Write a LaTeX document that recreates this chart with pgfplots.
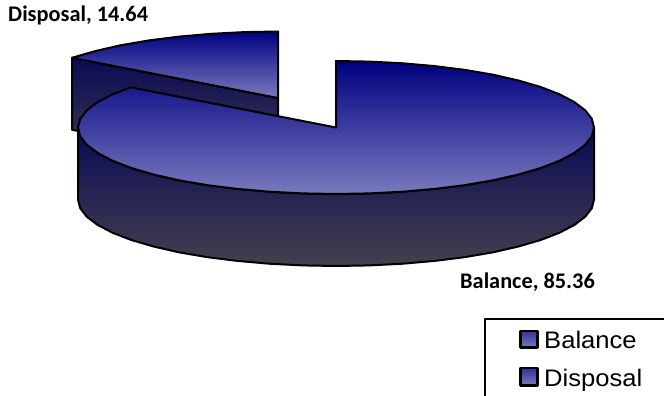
\documentclass[border=0pt]{standalone}
\usepackage{pgfplots}
\pgfplotsset{compat=1.18}
\usepackage{fontspec}
\setmainfont{Liberation Sans}
\newfontfamily\labelfont{Carlito}[BoldFont=Carlito Bold]
\definecolor{topdark}{RGB}{0,0,128}
\definecolor{topmid}{RGB}{84,84,160}
\definecolor{toplight}{RGB}{122,122,190}
\definecolor{walldark}{RGB}{10,10,85}
\definecolor{walllight}{RGB}{68,64,78}
\begin{document}
\begin{tikzpicture}[x=1bp,y=1bp]
\path[use as bounding box] (0,0) rectangle (664bp,396bp);
\begin{axis}[
  at={(0,0)}, anchor=south west,
  scale only axis, width=664bp, height=396bp,
  xmin=0, xmax=664, ymin=0, ymax=396, y dir=reverse,
  hide axis, clip=false,
  every axis plot/.append style={draw=black, line width=2bp, line join=round, mark=none},
]
% Disposal: cut face, then top surface (14.64 of the pie)
\addplot[top color=walldark, bottom color=walllight] coordinates {
  (72,57.8) (278,98) (278,170) (72,129.8)
} -- cycle;
\addplot[top color=topdark, middle color=topmid, bottom color=toplight] coordinates {
  (278,31.5) (244.3,32.1) (211.2,33.8) (179.3,36.6) (149,40.4) (120.9,45.2)
  (95.6,51) (72,57.8) (278,98)
} -- cycle;
% Balance: outer wall, then top surface (85.36 of the pie)
\addplot[top color=walldark, bottom color=walllight] coordinates {
  (594,127.5) (591.8,136.2) (585.2,144.7) (574.4,152.9) (559.4,160.75) (540.7,168)
  (518.4,174.5) (493.1,180.3) (465,185.1) (434.7,188.9) (402.8,191.7) (369.7,193.4)
  (336,194) (302.3,193.4) (269.2,191.7) (237.3,188.9) (207,185.1) (178.9,180.3)
  (153.6,174.5) (131.3,168) (112.6,160.75) (97.6,152.9) (86.8,144.7) (80.2,136.2)
  (78,127.5)
  (78,199.5) (80.2,208.2) (86.8,216.7) (97.6,224.9) (112.6,232.75) (131.3,240)
  (153.6,246.5) (178.9,252.3) (207,257.1) (237.3,260.9) (269.2,263.7) (302.3,265.4)
  (336,266) (369.7,265.4) (402.8,263.7) (434.7,260.9) (465,257.1) (493.1,252.3)
  (518.4,246.5) (540.7,240) (559.4,232.75) (574.4,224.9) (585.2,216.7) (591.8,208.2)
  (594,199.5)
} -- cycle;
\addplot[top color=topdark, middle color=topmid, bottom color=toplight] coordinates {
  (336,61) (369.7,61.6) (402.8,63.3) (434.7,66.1) (465,69.9) (493.1,74.7)
  (518.4,80.5) (540.7,87) (559.4,94.25) (574.4,102.1) (585.2,110.3) (591.8,118.8)
  (594,127.5) (591.8,136.2) (585.2,144.7) (574.4,152.9) (559.4,160.75) (540.7,168)
  (518.4,174.5) (493.1,180.3) (465,185.1) (434.7,188.9) (402.8,191.7) (369.7,193.4)
  (336,194) (302.3,193.4) (269.2,191.7) (237.3,188.9) (207,185.1) (178.9,180.3)
  (153.6,174.5) (131.3,168) (112.6,160.75) (97.6,152.9) (86.8,144.7) (80.2,136.2)
  (78,127.5) (80.2,118.8) (86.8,110.3) (97.6,102.1) (112.6,94.25) (130.5,87.3)
  (336,127.5)
} -- cycle;
% Legend frame and swatches
\addplot[line width=1.5bp] coordinates {(664,319) (485,319) (485,396)};
\addplot[line width=2.5bp, top color=topdark!80!white, bottom color=toplight] coordinates {
  (520.5,331) (537.5,331) (537.5,347.5) (520.5,347.5)} -- cycle;
\addplot[line width=2.5bp, top color=topdark!80!white, bottom color=toplight] coordinates {
  (520.5,368) (537.5,368) (537.5,385.5) (520.5,385.5)} -- cycle;
% Data labels
\node[anchor=west, inner sep=0pt, font={\labelfont\bfseries\fontsize{22.4}{26}\selectfont}]
  at (axis cs:8,15) {Disposal, 14.64};
\node[anchor=west, inner sep=0pt, font={\labelfont\bfseries\fontsize{22.4}{26}\selectfont}]
  at (axis cs:460,282) {Balance, 85.36};
% Legend entries
\node[anchor=base west, inner sep=0pt, xscale=1.07, font={\fontsize{24}{28}\selectfont}]
  at (axis cs:544,348) {Balance};
\node[anchor=base west, inner sep=0pt, xscale=1.07, font={\fontsize{24}{28}\selectfont}]
  at (axis cs:544,386) {Disposal};
\end{axis}
\end{tikzpicture}
\end{document}
